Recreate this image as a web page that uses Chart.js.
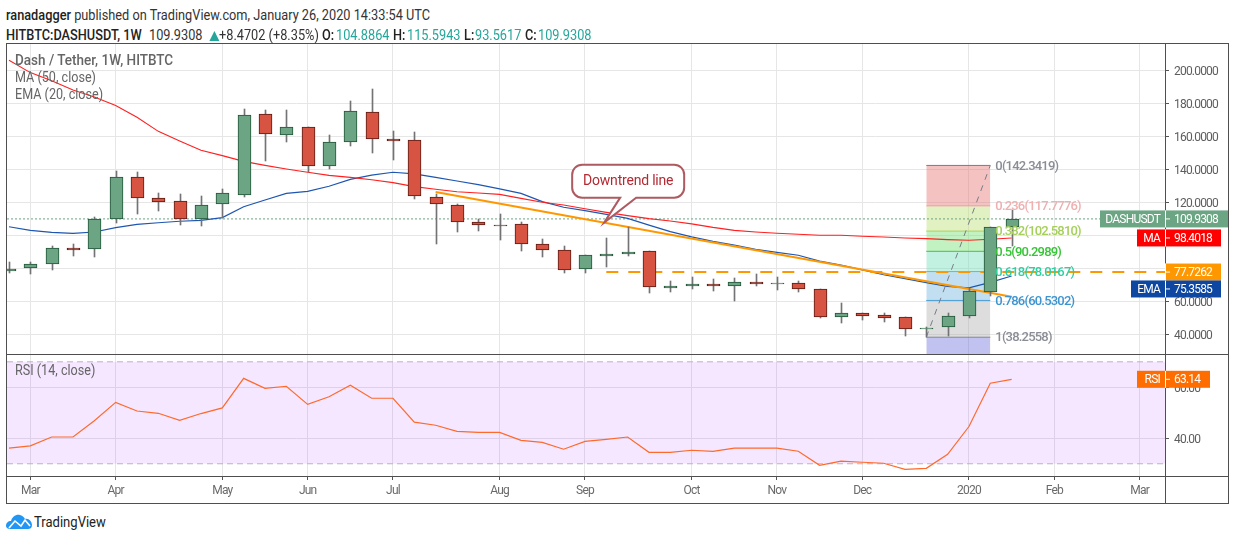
<!DOCTYPE html>
<html>
<head>
<meta charset="utf-8">
<title>DASHUSDT</title>
<script src="https://cdn.jsdelivr.net/npm/chart.js@4"></script>
<style>
  html, body { margin: 0; padding: 0; background: #fff; }
  body { width: 1234px; height: 540px; position: relative; overflow: hidden; font-family: Roboto, sans-serif; }
  .abs { position: absolute; white-space: nowrap; }
  .line { position: absolute; background: #4f4f4f; }
  canvas { position: absolute; }
  .head { font-size: 15px; color: #333; line-height: 18px; transform: scaleX(.85); transform-origin: left; }
  .head b { color: #222; font-weight: 500; }
  .teal { color: #26a69a; }
  .legend { font-size: 15px; color: #666; line-height: 17px; z-index: 5; transform: scaleX(.84); transform-origin: left; }
</style>
</head>
<body>
<div class="line" style="left:6px;top:43px;width:1222px;height:1px"></div>
<div class="line" style="left:6px;top:43px;width:1px;height:460px"></div>
<div class="line" style="left:1228px;top:43px;width:1px;height:461px"></div>
<div class="line" style="left:6px;top:503px;width:1222px;height:1px"></div>
<div class="line" style="left:6px;top:354px;width:1222px;height:1px"></div>
<div class="line" style="left:6px;top:476px;width:1222px;height:1px"></div>
<div class="line" style="left:1165px;top:43px;width:1px;height:460px"></div>

<canvas id="priceChart" style="left:7px;top:44px" width="1221" height="310"></canvas>
<canvas id="rsiChart" style="left:7px;top:355px" width="1221" height="148"></canvas>

<div class="abs head" style="left:6px;top:6px"><b>ranadagger</b> published on TradingView.com, January 26, 2020 14:33:54 UTC</div>
<div class="abs head" style="left:6px;top:26px"><b>HITBTC:DASHUSDT, 1W</b></div>
<div class="abs head" style="left:149px;top:26px">109.9308</div>
<div class="abs head teal" style="left:206px;top:26px;font-size:17px;transform:none">▲</div>
<div class="abs head" style="left:219px;top:26px">+8.4702 (+8.35%)</div>
<div class="abs head" style="left:322px;top:26px"><b>O:</b></div>
<div class="abs head teal" style="left:336px;top:26px">104.8864</div>
<div class="abs head" style="left:393px;top:26px"><b>H:</b></div>
<div class="abs head teal" style="left:407px;top:26px">115.5943</div>
<div class="abs head" style="left:464px;top:26px"><b>L:</b></div>
<div class="abs head teal" style="left:475px;top:26px">93.5617</div>
<div class="abs head" style="left:525px;top:26px"><b>C:</b></div>
<div class="abs head teal" style="left:538px;top:26px">109.9308</div>

<div class="abs legend" style="left:15px;top:52px;font-weight:500;transform:scaleX(.9)">Dash / Tether, 1W, HITBTC</div>
<div class="abs legend" style="left:15px;top:69px">MA (50, close)</div>
<div class="abs legend" style="left:15px;top:86px">EMA (20, close)</div>
<div class="abs legend" style="left:15px;top:362px">RSI (14, close)</div>

<svg class="abs" style="left:6px;top:514px" width="27" height="16" viewBox="0 0 27 16">
  <path d="M0 12 C0 9 2 7 5 7 C6 3 10 0 14 1 C17 2 18 3 19 5 C23 4 26 8 26 11 C26 14 24 15 22 15 L4 15 C2 15 0 14 0 12 Z" fill="#2196f3"/>
  <path d="M3 14 L9 7 L15 12 L19 6 L24 12" fill="none" stroke="#fff" stroke-width="1.6"/>
</svg>
<div class="abs" style="left:34px;top:513px;font-size:15px;color:#222;line-height:18px;transform:scaleX(.87);transform-origin:left">TradingView</div>

<script>
const chartFont = "Roboto, sans-serif";

// weekly candles, index 0 is the week cut off at the left edge
const opens = [79.4, 80.0, 82.4, 92.2, 91.5, 110.1, 135.1, 122.4, 120.6, 110.1, 118.7, 124.6, 173.3, 161.0, 165.4, 142.2, 156.3, 174.5, 158.2, 157.6, 123.0, 118.2, 107.9, 106.2, 106.6, 94.5, 90.9, 79.4, 87.3, 88.5, 90.3, 68.5, 69.1, 70.3, 69.1, 71.5, 70.8, 70.9, 67.3, 50.3, 52.7, 51.7, 50.3, 43.5, 44.2, 50.9, 65.8, 104.8864];
const highs = [83.8, 83.8, 93.5, 94.7, 110.9, 138.9, 138.4, 125.4, 125.0, 123.8, 128.0, 176.5, 175.9, 175.9, 165.4, 160.8, 181.4, 188.5, 163.2, 162.4, 125.0, 119.0, 109.7, 112.9, 108.3, 97.8, 93.5, 87.9, 98.4, 104.8, 90.3, 72.3, 74.7, 73.3, 73.9, 76.3, 74.7, 72.3, 67.3, 58.8, 52.7, 52.7, 50.3, 44.6, 52.7, 68.0, 104.8, 115.5943];
const lows = [76.9, 76.8, 79.2, 87.7, 87.0, 107.7, 113.1, 114.9, 106.4, 105.8, 110.3, 123.4, 145.2, 156.5, 138.2, 140.2, 154.1, 149.9, 145.6, 122.0, 94.9, 102.2, 102.8, 97.4, 90.7, 87.0, 77.4, 77.4, 81.0, 87.7, 65.2, 65.8, 67.7, 66.4, 60.4, 69.5, 67.0, 65.8, 50.1, 47.0, 48.7, 47.4, 39.2, 38.3, 39.2, 49.7, 63.4, 93.5617];
const closes = [79.8, 82.4, 92.1, 91.4, 110.1, 135.1, 122.4, 120.4, 110.1, 118.2, 125.4, 172.7, 161.6, 165.4, 142.2, 156.3, 175.1, 158.2, 157.6, 123.6, 118.8, 107.9, 106.0, 106.0, 94.5, 90.9, 78.8, 87.9, 88.5, 90.1, 68.5, 69.3, 70.3, 69.1, 71.5, 70.7, 70.9, 67.3, 50.3, 52.7, 51.3, 50.1, 43.4, 43.6, 50.9, 66.0, 104.8, 109.9308];

const maValues = [206.1, 198.6, 193.7, 188.1, 183.8, 178.6, 171.5, 163.0, 157.2, 151.5, 148.3, 144.8, 142.4, 140.2, 138.2, 136.3, 135.1, 133.7, 131.9, 129.5, 127.9, 126.4, 125.6, 124.8, 122.4, 120.0, 118.4, 116.1, 113.9, 111.9, 110.1, 108.7, 106.9, 104.8, 103.0, 102.0, 101.2, 100.6, 100.0, 100.0, 99.4, 99.0, 98.4, 98.0, 97.4, 97.0, 97.6, 98.4018];
const emaValues = [105.2, 103.0, 101.8, 101.2, 102.0, 104.6, 106.6, 107.6, 108.5, 109.1, 110.7, 117.3, 121.4, 125.4, 126.6, 129.7, 133.9, 136.5, 138.2, 137.2, 135.1, 132.9, 130.7, 128.1, 125.4, 120.4, 117.0, 114.9, 112.7, 110.3, 106.2, 102.2, 99.0, 96.3, 94.1, 91.5, 89.7, 87.9, 84.4, 82.0, 79.0, 76.1, 73.7, 71.3, 69.1, 68.1, 71.5, 75.3585];
const rsiValues = [36.1, 37.0, 40.5, 40.5, 46.9, 54.1, 50.7, 49.8, 47.0, 49.7, 51.9, 63.5, 59.6, 60.4, 53.3, 56.3, 60.8, 55.7, 55.7, 46.3, 45.1, 42.7, 42.3, 42.3, 39.2, 38.4, 35.7, 38.8, 39.6, 40.5, 34.5, 34.5, 35.3, 34.9, 36.1, 36.1, 36.1, 34.9, 29.4, 31.0, 30.6, 30.2, 27.8, 28.2, 33.7, 44.6, 61.6, 63.14];

const monthWeeks = [1, 5, 10, 14, 18, 23, 27, 32, 36, 40, 45, 49, 53];
const monthLabels = ["Mar", "Apr", "May", "Jun", "Jul", "Aug", "Sep", "Oct", "Nov", "Dec", "2020", "Feb", "Mar"];
const priceTicks = [40, 60, 80, 100, 120, 140, 160, 180, 200];
const rsiTicks = [40, 60];
const rsiBands = [70, 30];

const trendWeeks = [20, 47];
const trendValues = [126.2, 62.8];
const supportWeeks = [28, 54.19];
const supportValues = [77.7262, 77.7262];
const lastClose = 109.9308;

const fibWeeks = [43, 46];
const fibValues = [142.3419, 117.7776, 102.5810, 90.2989, 78.0167, 60.5302, 38.2558];
const fibNames = ["0", "0.236", "0.382", "0.5", "0.618", "0.786", "1"];
const fibLines = ["#787b86", "#eeb0b0", "#a5cf5a", "#35c435", "#2fcf9f", "#3d94cf", "#787b86"];
const fibFills = ["rgba(232,120,120,.45)", "rgba(190,225,120,.45)", "rgba(120,225,120,.45)", "rgba(120,225,190,.45)", "rgba(120,185,225,.45)", "rgba(170,170,170,.4)", "rgba(110,110,220,.42)"];

const xMin = -0.094;
const xMax = 54.19;
const weeks = closes.map((c, i) => i);
const pairs = (xs, ys) => xs.map((x, i) => ({ x: x, y: ys[i] }));
const upOrDown = (up, down) => closes.map((c, i) => (c >= opens[i] ? up : down));

//Labels in the picture are narrow, tighten all canvas text
const narrowText = {
  id: "narrowText",
  beforeDraw(chart) {
    chart.ctx.letterSpacing = "-0.8px";
  },
};

//Snap bars to whole pixels so bodies and wicks stay crisp
const snapBars = {
  id: "snapBars",
  afterDatasetsUpdate(chart) {
    chart.getSortedVisibleDatasetMetas().forEach((meta) => {
      if (meta.type != "bar") return;
      meta.data.forEach((bar) => {
        const raw = Math.abs(bar.base - bar.y);
        bar.x = Math.round(bar.x) + 0.5;
        bar.y = Math.round(bar.y);
        bar.base = Math.round(bar.base);
        //keep the nearly flat weeks visible as a dark dash
        if (Math.abs(bar.base - bar.y) < 2) bar.base = bar.y + (raw >= 0.5 ? 2 : 1);
        bar.height = bar.base - bar.y;
      });
    });
  },
};

function noPadding(scale) {
  scale.paddingLeft = 0;
  scale.paddingRight = 0;
  scale.paddingTop = 0;
  scale.paddingBottom = 0;
}

function drawTag(ctx, right, label, labelLeft, value, valueRight, y, color) {
  ctx.fillStyle = color;
  ctx.fillRect(labelLeft, y - 8.5, valueRight - labelLeft, 17);
  ctx.fillStyle = "#fff";
  ctx.fillRect(right, y - 8.5, 1, 17);
  ctx.fillRect(right + 1, y - 0.5, 4, 1);
  ctx.font = "12px " + chartFont;
  ctx.textBaseline = "middle";
  ctx.textAlign = "right";
  if (label) ctx.fillText(label, right - 5, y + 1);
  ctx.textAlign = "left";
  ctx.fillText(value, right + 9, y + 1);
}

const priceOverlay = {
  id: "priceOverlay",
  afterDatasetsDraw(chart) {
    const ctx = chart.ctx;
    const xs = chart.scales.x;
    const ys = chart.scales.y;
    ctx.save();
    //Fibonacci labels
    ctx.font = "500 13px " + chartFont;
    ctx.textBaseline = "middle";
    ctx.textAlign = "left";
    fibValues.forEach((v, i) => {
      ctx.fillStyle = i == 0 || i == 6 ? "#8a8d96" : fibLines[i];
      ctx.fillText(fibNames[i] + "(" + v.toFixed(4) + ")", xs.getPixelForValue(fibWeeks[1]) + 5, ys.getPixelForValue(v) + 1);
    });
    //Callout
    const tipX = xs.getPixelForValue(27.9);
    const tipY = ys.getPixelForValue(107.66);
    ctx.beginPath();
    ctx.moveTo(tipX - 32 + 10, tipY - 58);
    ctx.arcTo(tipX + 80, tipY - 58, tipX + 80, tipY - 25, 10);
    ctx.arcTo(tipX + 80, tipY - 25, tipX + 32, tipY - 25, 10);
    ctx.lineTo(tipX + 32, tipY - 25);
    ctx.lineTo(tipX, tipY);
    ctx.lineTo(tipX + 16, tipY - 25);
    ctx.arcTo(tipX - 32, tipY - 25, tipX - 32, tipY - 58, 10);
    ctx.arcTo(tipX - 32, tipY - 58, tipX + 80, tipY - 58, 10);
    ctx.closePath();
    ctx.fillStyle = "#fff";
    ctx.fill();
    ctx.lineWidth = 2;
    ctx.strokeStyle = "#ad5a60";
    ctx.stroke();
    ctx.fillStyle = "#b22a33";
    ctx.font = "14px " + chartFont;
    ctx.letterSpacing = "-0.2px";
    ctx.textAlign = "center";
    ctx.fillText("Downtrend line", tipX + 24, tipY - 41);
    ctx.letterSpacing = "-0.8px";
    //Value tags on the axis
    const axis = chart.chartArea.right;
    drawTag(ctx, axis, "DASHUSDT", axis - 65, lastClose.toFixed(4), axis + 63, ys.getPixelForValue(lastClose), "#6ba583");
    drawTag(ctx, axis, "MA", axis - 28, maValues[47].toFixed(4), axis + 56, ys.getPixelForValue(maValues[47]), "#ff0000");
    drawTag(ctx, axis, "", axis, supportValues[0].toFixed(4), axis + 56, ys.getPixelForValue(supportValues[0]), "#ff9800");
    drawTag(ctx, axis, "EMA", axis - 34, emaValues[47].toFixed(4), axis + 56, ys.getPixelForValue(emaValues[47]) + 13, "#0d47a1");
    ctx.restore();
  },
};

const rsiOverlay = {
  id: "rsiOverlay",
  afterDatasetsDraw(chart) {
    const ys = chart.scales.y;
    const axis = chart.chartArea.right;
    const last = rsiValues[rsiValues.length - 1];
    chart.ctx.save();
    drawTag(chart.ctx, axis, "RSI", axis - 28, last.toFixed(2), axis + 45, ys.getPixelForValue(last), "#ff6d00");
    chart.ctx.restore();
  },
};

const lineBase = { type: "line", pointRadius: 0, tension: 0, fill: false };

//Fibonacci bands: one flat line per level, filled down to the next level
const fibDatasets = fibValues.map((v, i) => ({
  ...lineBase,
  data: pairs(fibWeeks, [v, v]),
  borderColor: fibLines[i],
  borderWidth: 1,
  backgroundColor: fibFills[i],
  fill: { value: i < 6 ? fibValues[i + 1] : 20 },
  order: 10,
}));

new Chart(document.getElementById("priceChart"), {
  type: "bar",
  plugins: [narrowText, snapBars, priceOverlay],
  data: {
    datasets: [
      ...fibDatasets,
      { ...lineBase, data: pairs(fibWeeks, [fibValues[6], fibValues[0]]), borderColor: "#787b86", borderWidth: 1, borderDash: [6, 6], order: 9 },
      { ...lineBase, data: pairs([xMin, xMax], [lastClose, lastClose]), borderColor: "#6ba583", borderWidth: 1, borderDash: [2, 2], order: 8 },
      { ...lineBase, data: pairs(weeks, emaValues), borderColor: "#1e56b0", borderWidth: 1.2, order: 7 },
      { ...lineBase, data: pairs(weeks, maValues), borderColor: "#ff2020", borderWidth: 1.1, order: 6 },
      { ...lineBase, data: pairs(supportWeeks, supportValues), borderColor: "#ff9800", borderWidth: 2, borderDash: [12, 10], order: 5 },
      { ...lineBase, data: pairs(trendWeeks, trendValues), borderColor: "#ff9800", borderWidth: 2, order: 4 },
      {
        type: "bar",
        data: weeks.map((i) => ({ x: i, y: [lows[i], highs[i]] })),
        backgroundColor: "#737375",
        borderWidth: 0,
        barThickness: 1,
        grouped: false,
        order: 3,
      },
      {
        type: "bar",
        data: weeks.map((i) => ({ x: i, y: [opens[i], closes[i]] })),
        backgroundColor: upOrDown("#6ba583", "#d75442"),
        borderColor: upOrDown("#225437", "#5b1a13"),
        borderWidth: 1,
        borderSkipped: false,
        barThickness: 13,
        grouped: false,
        order: 2,
      },
    ],
  },
  options: {
    responsive: false,
    animation: false,
    layout: { padding: 0 },
    plugins: { legend: { display: false }, tooltip: { enabled: false } },
    scales: {
      x: {
        type: "linear",
        offset: false,
        min: xMin,
        max: xMax,
        afterBuildTicks: (s) => { s.ticks = monthWeeks.map((w) => ({ value: w })); },
        afterFit: (s) => { s.height = 0; noPadding(s); },
        ticks: { display: false },
        grid: { color: "#e6e6e6", drawTicks: false, offset: false },
        border: { display: false },
      },
      y: {
        position: "right",
        min: 28.06,
        max: 215.94,
        afterBuildTicks: (s) => { s.ticks = priceTicks.map((v) => ({ value: v })); },
        afterFit: (s) => { s.width = 63; noPadding(s); },
        ticks: { color: "#5d5d5d", font: { family: chartFont, size: 12 }, padding: 5, labelOffset: 1.5, callback: (v) => Number(v).toFixed(4) },
        grid: { color: "#e6e6e6", tickLength: 4, tickColor: "#555" },
        border: { display: false },
      },
    },
  },
});

new Chart(document.getElementById("rsiChart"), {
  type: "line",
  plugins: [narrowText, rsiOverlay],
  data: {
    datasets: [
      {
        ...lineBase,
        data: pairs([xMin, xMax], [rsiBands[0], rsiBands[0]]),
        borderColor: "#bdb0c6",
        borderWidth: 1,
        borderDash: [6, 4],
        backgroundColor: "rgba(153,21,255,0.1)",
        fill: { value: rsiBands[1] },
        order: 3,
      },
      { ...lineBase, data: pairs([xMin, xMax], [rsiBands[1], rsiBands[1]]), borderColor: "#bdb0c6", borderWidth: 1, borderDash: [6, 4], order: 2 },
      { ...lineBase, data: pairs(weeks, rsiValues), borderColor: "#ff6a2b", borderWidth: 1.2, order: 1 },
    ],
  },
  options: {
    responsive: false,
    animation: false,
    layout: { padding: 0 },
    plugins: { legend: { display: false }, tooltip: { enabled: false } },
    scales: {
      x: {
        type: "linear",
        min: xMin,
        max: xMax,
        afterBuildTicks: (s) => { s.ticks = monthWeeks.map((w) => ({ value: w })); },
        afterFit: (s) => { s.height = 27; noPadding(s); },
        ticks: {
          color: "#6a6a6a",
          font: { family: chartFont, size: 12 },
          padding: 4,
          maxRotation: 0,
          autoSkip: false,
          callback: (v) => monthLabels[monthWeeks.indexOf(v)],
        },
        grid: { color: "#e6e6e6", tickLength: 4, tickColor: "#555" },
        border: { display: false },
      },
      y: {
        position: "right",
        min: 25.2,
        max: 72.67,
        afterBuildTicks: (s) => { s.ticks = rsiTicks.map((v) => ({ value: v })); },
        afterFit: (s) => { s.width = 63; noPadding(s); },
        ticks: { color: "#5d5d5d", font: { family: chartFont, size: 12 }, padding: 5, labelOffset: 1.5, callback: (v) => Number(v).toFixed(2) },
        grid: { color: "#e6e6e6", tickLength: 4, tickColor: "#555" },
        border: { display: false },
      },
    },
  },
});
</script>
</body>
</html>
